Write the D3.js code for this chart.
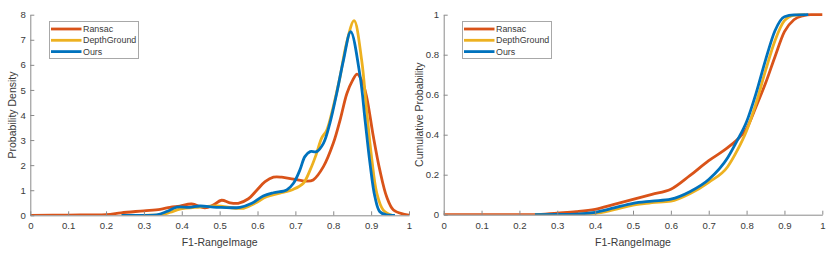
<!DOCTYPE html>
<html><head><meta charset="utf-8">
<script src="https://cdn.jsdelivr.net/npm/d3@7"></script>
<style>
html,body{margin:0;padding:0;background:#fff;}
svg{display:block;}
text{font-family:"Liberation Sans",Arial,Helvetica,sans-serif;}
</style></head>
<body>
<svg id="chart" width="830" height="253"></svg>
<script>
// ---------- data ----------
const seriesNames = ["Ransac", "DepthGround", "Ours"];
const seriesColors = ["#D95319", "#EDB120", "#0072BD"];
const xTicks = [0, 0.1, 0.2, 0.3, 0.4, 0.5, 0.6, 0.7, 0.8, 0.9, 1];
const densityTicks = [0, 1, 2, 3, 4, 5, 6, 7, 8];
const cdfTicks = [0, 0.2, 0.4, 0.6, 0.8, 1];

// Probability density (left)
const densRansacX = [0, 0.1, 0.2, 0.24, 0.3, 0.343, 0.369, 0.395, 0.426, 0.461, 0.483, 0.505, 0.527, 0.549, 0.576, 0.598, 0.620, 0.642, 0.664, 0.695, 0.730, 0.747, 0.774, 0.800, 0.818, 0.836, 0.850, 0.863, 0.876, 0.888, 0.906, 0.923, 0.941, 0.959, 0.985, 1.0];
const densRansacY = [0, 0.01, 0.03, 0.1, 0.18, 0.24, 0.32, 0.37, 0.45, 0.3, 0.41, 0.6, 0.5, 0.48, 0.66, 1.0, 1.34, 1.52, 1.52, 1.44, 1.36, 1.41, 1.94, 2.87, 3.8, 4.86, 5.35, 5.63, 5.35, 4.73, 3.13, 1.8, 0.74, 0.21, 0.05, 0.01];
const densDepthX = [0.241, 0.30, 0.35, 0.37, 0.395, 0.448, 0.492, 0.563, 0.593, 0.624, 0.659, 0.695, 0.721, 0.739, 0.756, 0.769, 0.783, 0.800, 0.818, 0.835, 0.855, 0.875, 0.888, 0.901, 0.915, 0.932, 0.955];
const densDepthY = [0, 0, 0.03, 0.12, 0.25, 0.33, 0.37, 0.28, 0.48, 0.74, 0.88, 1.04, 1.28, 1.81, 2.47, 3.07, 3.40, 4.33, 5.53, 6.86, 7.76, 6.19, 4.2, 2.34, 0.88, 0.21, 0];
const densOursX = [0.241, 0.30, 0.334, 0.36, 0.387, 0.42, 0.448, 0.492, 0.554, 0.585, 0.615, 0.642, 0.677, 0.695, 0.712, 0.725, 0.739, 0.756, 0.774, 0.791, 0.809, 0.827, 0.846, 0.871, 0.884, 0.897, 0.910, 0.923, 0.94, 0.963];
const densOursY = [0, 0, 0.02, 0.15, 0.33, 0.32, 0.37, 0.32, 0.32, 0.48, 0.77, 0.90, 1.01, 1.28, 1.81, 2.34, 2.54, 2.54, 2.87, 3.67, 4.86, 6.19, 7.32, 5.53, 3.8, 2.07, 0.74, 0.14, 0.02, 0];

// Cumulative probability (right)
const cdfRansacX = [0, 0.24, 0.30, 0.35, 0.40, 0.45, 0.50, 0.55, 0.60, 0.65, 0.70, 0.75, 0.783, 0.80, 0.825, 0.85, 0.875, 0.90, 0.925, 0.95, 0.97, 1.0];
const cdfRansacY = [0, 0, 0.008, 0.015, 0.027, 0.052, 0.077, 0.102, 0.127, 0.195, 0.27, 0.335, 0.39, 0.43, 0.54, 0.657, 0.79, 0.915, 0.975, 0.995, 1, 1];
const cdfDepthX = [0.241, 0.30, 0.35, 0.40, 0.45, 0.50, 0.55, 0.60, 0.65, 0.70, 0.75, 0.775, 0.80, 0.825, 0.85, 0.875, 0.90, 0.925, 0.955];
const cdfDepthY = [0, 0, 0.002, 0.006, 0.025, 0.048, 0.06, 0.068, 0.105, 0.162, 0.24, 0.32, 0.42, 0.557, 0.72, 0.87, 0.97, 0.997, 1.0];
const cdfOursX = [0.241, 0.30, 0.35, 0.40, 0.45, 0.50, 0.55, 0.60, 0.65, 0.70, 0.75, 0.775, 0.80, 0.825, 0.85, 0.875, 0.90, 0.925, 0.963];
const cdfOursY = [0, 0.001, 0.003, 0.012, 0.034, 0.057, 0.068, 0.078, 0.115, 0.176, 0.285, 0.37, 0.465, 0.607, 0.773, 0.92, 0.99, 0.999, 1.0];

const zip = (xs, ys) => xs.map((x, i) => ({x, y: ys[i]}));

const panels = [
  {left: 30.3, right: 409, top: 14.7, bottom: 215.3, yMax: 8, yTicks: densityTicks,
   yLabel: "Probability Density", yLabelX: 12.5,
   series: [zip(densRansacX, densRansacY), zip(densDepthX, densDepthY), zip(densOursX, densOursY)],
   curve: d3.curveCatmullRom.alpha(0.5),
   legend: {x: 49, y: 21, w: 89, h: 37}},
  {left: 443.7, right: 822.3, top: 14.7, bottom: 214.7, yMax: 1, yTicks: cdfTicks,
   yLabel: "Cumulative Probability", yLabelX: 419.5,
   series: [zip(cdfRansacX, cdfRansacY), zip(cdfDepthX, cdfDepthY), zip(cdfOursX, cdfOursY)],
   curve: d3.curveMonotoneX,
   legend: {x: 462, y: 21, w: 89, h: 37}}
];

const svg = d3.select("#chart");
const axisColor = "#8a8a8a";
const textColor = "#3a3a3a";
const fmt = d => d === 0 ? "0" : d === 1 ? "1" : String(d);

panels.forEach((p, pi) => {
  const x = d3.scaleLinear().domain([0, 1]).range([p.left, p.right]);
  const y = d3.scaleLinear().domain([0, p.yMax]).range([p.bottom, p.top]);
  const g = svg.append("g");

  const clipId = "clip" + pi;
  g.append("clipPath").attr("id", clipId).append("rect")
    .attr("x", p.left - 2).attr("y", p.top - 2)
    .attr("width", p.right - p.left + 4).attr("height", p.bottom - p.top + 2);

  const line = d3.line().x(d => x(d.x)).y(d => y(Math.max(0, d.y))).curve(p.curve);
  p.series.forEach((s, i) => {
    g.append("path").datum(s)
      .attr("clip-path", `url(#${clipId})`)
      .attr("fill", "none").attr("stroke", seriesColors[i])
      .attr("stroke-width", 2.8).attr("stroke-linejoin", "round")
      .attr("d", line);
  });

  const xAxis = d3.axisBottom(x).tickValues(xTicks).tickFormat(fmt)
    .tickSizeInner(-4).tickSizeOuter(0).tickPadding(7);
  const gx = g.append("g").attr("transform", `translate(0,${p.bottom})`).call(xAxis);
  const yAxis = d3.axisLeft(y).tickValues(p.yTicks).tickFormat(fmt)
    .tickSizeInner(-4).tickSizeOuter(0).tickPadding(4.5);
  const gy = g.append("g").attr("transform", `translate(${p.left},0)`).call(yAxis);
  [gx, gy].forEach(a => {
    a.selectAll("path,line").attr("stroke", axisColor).attr("stroke-width", 1);
    a.selectAll("text").attr("fill", textColor).style("font-size", "9.6px")
      .style("font-family", '"Liberation Sans",Arial,sans-serif');
  });

  g.append("text").attr("x", (p.left + p.right) / 2).attr("y", 246)
    .attr("text-anchor", "middle").attr("fill", textColor)
    .style("font-size", "10.5px").text("F1-RangeImage");
  g.append("text").attr("transform", `translate(${p.yLabelX},${(p.top + p.bottom) / 2}) rotate(-90)`)
    .attr("text-anchor", "middle").attr("dy", "0.35em").attr("fill", textColor)
    .style("font-size", "10.5px").text(p.yLabel);

  // legend
  const L = p.legend;
  const lg = g.append("g");
  lg.append("rect").attr("x", L.x + 0.5).attr("y", L.y + 0.5).attr("width", L.w).attr("height", L.h)
    .attr("fill", "#fff").attr("stroke", "#a8a8a8").attr("stroke-width", 1);
  seriesNames.forEach((n, i) => {
    const yy = L.y + 8 + i * 11.3;
    lg.append("line").attr("x1", L.x + 2).attr("x2", L.x + 32.5).attr("y1", yy).attr("y2", yy)
      .attr("stroke", seriesColors[i]).attr("stroke-width", 2.8);
    lg.append("text").attr("x", L.x + 34).attr("y", yy).attr("dy", "0.35em")
      .attr("fill", textColor).style("font-size", "8.9px").text(n);
  });
});
</script>
</body></html>
